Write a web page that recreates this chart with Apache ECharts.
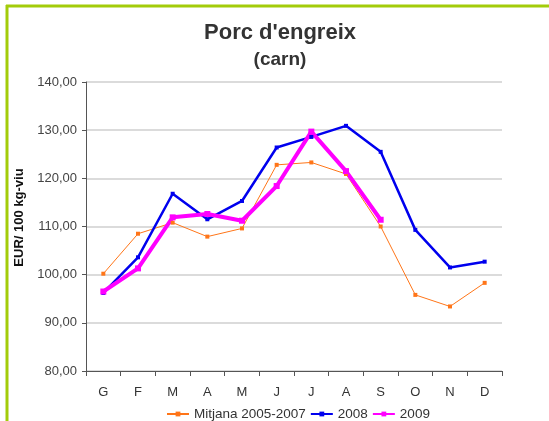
<!DOCTYPE html>
<html lang="ca">
<head>
    <meta charset="UTF-8">
    <title>Porc d'engreix</title>
    <script src="https://cdn.jsdelivr.net/npm/echarts@6/dist/echarts.min.js"></script>
    <style>
        html, body {
            margin: 0;
            padding: 0;
            background: #fff;
        }
        #chart {
            width: 549px;
            height: 421px;
        }
    </style>
</head>
<body>
<div id="chart"></div>
<script>
    var months = ['G', 'F', 'M', 'A', 'M', 'J', 'J', 'A', 'S', 'O', 'N', 'D'];
    var mitjana = [100.2, 108.5, 110.8, 107.9, 109.6, 122.8, 123.3, 120.9, 110.0, 95.8, 93.4, 98.3];
    var any2008 = [96.2, 103.6, 116.8, 111.5, 115.3, 126.4, 128.6, 130.9, 125.5, 109.3, 101.5, 102.7];
    var any2009 = [96.5, 101.3, 111.9, 112.6, 111.2, 118.4, 129.7, 121.5, 111.4];

    var font = 'Liberation Sans, Arial, sans-serif';
    var chart = echarts.init(document.getElementById('chart'));

    chart.setOption({
        animation: false,
        title: {
            text: "Porc d'engreix",
            subtext: '(carn)',
            left: 280,
            top: 22,
            textAlign: 'center',
            padding: 0,
            itemGap: 6,
            textStyle: {fontFamily: font, fontSize: 22, fontWeight: 'bold', color: '#333'},
            subtextStyle: {fontFamily: font, fontSize: 19, fontWeight: 'bold', color: '#333'}
        },
        graphic: [
            {type: 'line', shape: {x1: 6, y1: 6, x2: 549, y2: 6}, style: {stroke: '#a3cc0a', lineWidth: 3}},
            {type: 'line', shape: {x1: 7, y1: 5, x2: 7, y2: 421}, style: {stroke: '#a3cc0a', lineWidth: 3}}
        ],
        legend: {
            bottom: 0,
            left: 166,
            padding: [0, 0, 0, 0],
            itemGap: 4,
            itemWidth: 22,
            itemHeight: 6,
            textStyle: {fontFamily: font, fontSize: 13.5, color: '#333'},
            data: ['Mitjana 2005-2007', '2008', '2009']
        },
        grid: {left: 86, right: 47, top: 82, bottom: 50},
        xAxis: {
            type: 'category',
            data: months,
            axisLine: {lineStyle: {color: '#555', width: 1}},
            axisTick: {show: true, length: 5, lineStyle: {color: '#555'}},
            axisLabel: {fontFamily: font, fontSize: 13, color: '#333', margin: 15}
        },
        yAxis: {
            type: 'value',
            min: 80,
            max: 140,
            interval: 10,
            name: 'EUR/ 100 kg-viu',
            nameLocation: 'middle',
            nameGap: 60,
            nameTextStyle: {fontFamily: font, fontSize: 13, fontWeight: 'bold', color: '#111', padding: [0, 0, 0, 18]},
            axisLine: {show: true, lineStyle: {color: '#555', width: 1}},
            axisTick: {show: true, length: 4, lineStyle: {color: '#555'}},
            axisLabel: {
                fontFamily: font, fontSize: 13, color: '#444', margin: 9,
                formatter: function (v) { return v.toFixed(2).replace('.', ','); }
            },
            splitLine: {lineStyle: {color: '#cfcfcf', width: 1.5}}
        },
        series: [
            {
                name: 'Mitjana 2005-2007',
                type: 'line',
                data: mitjana,
                symbol: 'rect',
                symbolSize: 4,
                lineStyle: {color: '#ff7518', width: 1},
                itemStyle: {color: '#ff7518'}
            },
            {
                name: '2008',
                type: 'line',
                data: any2008,
                symbol: 'rect',
                symbolSize: 4,
                lineStyle: {color: '#0000ee', width: 2.5},
                itemStyle: {color: '#0000ee'}
            },
            {
                name: '2009',
                type: 'line',
                data: any2009,
                symbol: 'rect',
                symbolSize: 6,
                lineStyle: {color: '#ff00ff', width: 4},
                itemStyle: {color: '#ff00ff'}
            }
        ]
    });
</script>
</body>
</html>
